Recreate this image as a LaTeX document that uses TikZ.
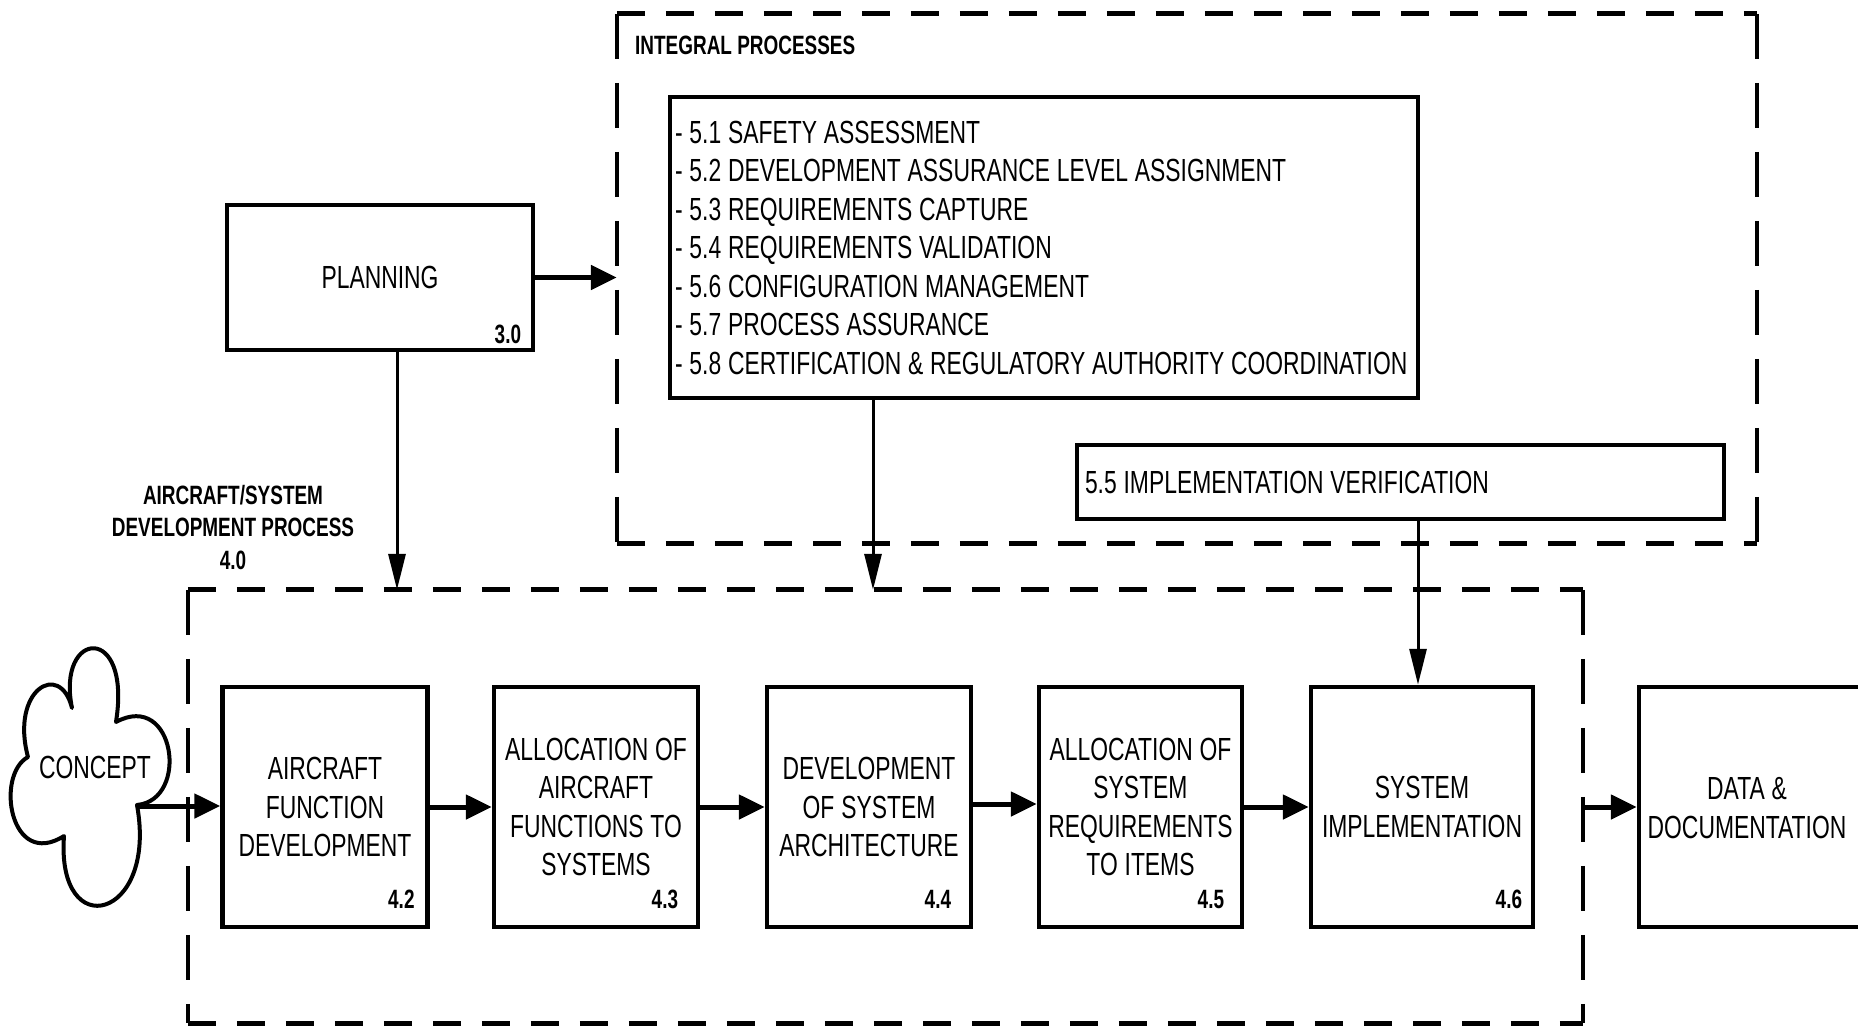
\documentclass[tikz,border=0pt]{standalone}
\usepackage{fontspec}
\setmainfont{Liberation Sans}[FakeStretch=0.715]
\usetikzlibrary{arrows.meta}
\newcommand\txtreg{\fontsize{32pt}{38.5pt}\selectfont\spaceskip=6.8pt\relax\hyphenpenalty=10000\relax}
\newcommand\txtbold{\bfseries\fontsize{26.5pt}{32.5pt}\selectfont\spaceskip=5.3pt\relax}
\begin{document}
\begin{tikzpicture}[x=1pt,y=-1pt,
  box/.style={draw,line width=4.5pt,inner sep=0pt,align=flush center,font=\txtreg,minimum height=240pt},
  listbox/.style={draw,line width=4.5pt,inner ysep=0pt,align=flush left,font=\txtreg},
  num/.style={font=\txtbold,inner sep=0pt,anchor=east},
  lbl/.style={font=\txtbold,inner sep=0pt},
  area/.style={draw=none,inner sep=0pt},
  hdash/.style={line width=5pt,dash pattern=on 28pt off 21pt},
  vdash/.style={line width=3.5pt,dash pattern=on 45pt off 24pt},
  harrow/.style={line width=5pt,-{Triangle[length=26pt,width=24pt]}},
  varrow/.style={line width=3pt,-{Triangle[length=36pt,width=17pt]}},
  cloudline/.style={line width=4pt,line join=round}
]
\clip (0,0) rectangle (1858,1027);
\fill[white] (0,0) rectangle (1858,1027);

% dashed areas
\node[area,minimum width=1140pt,minimum height=529pt] (intbox) at (1187,278.5) {};
\node[area,minimum width=1395pt,minimum height=433pt] (devbox) at (885.5,806.5) {};
\draw[hdash] (intbox.north west) -- (intbox.north east);
\draw[hdash] (intbox.south west) -- (intbox.south east);
\draw[vdash] (intbox.north west) -- (intbox.south west);
\draw[vdash] (intbox.north east) -- (intbox.south east);
\draw[hdash] (devbox.north west) -- (devbox.north east);
\draw[hdash] (devbox.south west) -- (devbox.south east);
\draw[vdash] (devbox.north west) -- (devbox.south west);
\draw[vdash] (devbox.north east) -- (devbox.south east);

% labels
\node[lbl,anchor=west] (intlbl) at (635,45) {INTEGRAL PROCESSES};
\node[lbl,align=flush center] (devlbl) at (233,527.5) {AIRCRAFT/SYSTEM\\DEVELOPMENT PROCESS\\4.0};

% planning
\node[box,minimum width=306pt,minimum height=145pt] (plan) at (380,277.5) {PLANNING};
\node[num] (n30) at ([xshift=-14pt,yshift=18pt]plan.south east) {3.0};

% integral list
\node[listbox,inner xsep=5pt,text width=738pt,minimum height=301pt] (list) at (1044,247.5) {%
- 5.1 SAFETY ASSESSMENT\\
- 5.2 DEVELOPMENT ASSURANCE LEVEL ASSIGNMENT\\
- 5.3 REQUIREMENTS CAPTURE\\
- 5.4 REQUIREMENTS VALIDATION\\
- 5.6 CONFIGURATION MANAGEMENT\\
- 5.7 PROCESS ASSURANCE\\
- 5.8 CERTIFICATION \& REGULATORY AUTHORITY COORDINATION};

\node[listbox,inner xsep=8pt,text width=631pt,minimum height=74pt] (v55) at (1400.5,482) {5.5 IMPLEMENTATION VERIFICATION};

% concept cloud
\draw[cloudline] (72,708) .. controls (56,630) and (132,622) .. (116,722)
  .. controls (175,690) and (190,800) .. (137,805)
  .. controls (158,920) and (56,945) .. (64,836)
  .. controls (10,870) and (-5,775) .. (28,757)
  .. controls (10,690) and (60,660) .. (72,708) -- cycle;
\coordinate (cC) at (137,806);
\node[font=\txtreg,inner sep=0pt] (concept) at (95,767) {CONCEPT};

% process boxes
\node[box,minimum width=205pt] (f42) at (325,807) {AIRCRAFT\\FUNCTION\\DEVELOPMENT};
\node[box,minimum width=204pt] (f43) at (596,807) {ALLOCATION OF\\AIRCRAFT\\FUNCTIONS TO\\SYSTEMS};
\node[box,minimum width=204pt] (f44) at (869,807) {DEVELOPMENT\\OF SYSTEM\\ARCHITECTURE};
\node[box,minimum width=203pt] (f45) at (1140.5,807) {ALLOCATION OF\\SYSTEM\\REQUIREMENTS\\TO ITEMS};
\node[box,minimum width=222pt] (f46) at (1422,807) {SYSTEM\\IMPLEMENTATION};
\node[box,minimum width=231pt] (data) at (1754.5,807) {};
\node[font=\txtreg,align=flush center,inner sep=0pt] (datatxt) at (1747,808) {DATA \&\\DOCUMENTATION};

\node[num] (n42) at ([xshift=-15pt,yshift=30pt]f42.south east) {4.2};
\node[num] (n43) at ([xshift=-22pt,yshift=30pt]f43.south east) {4.3};
\node[num] (n44) at ([xshift=-22pt,yshift=30pt]f44.south east) {4.4};
\node[num] (n45) at ([xshift=-20pt,yshift=30pt]f45.south east) {4.5};
\node[num] (n46) at ([xshift=-13pt,yshift=30pt]f46.south east) {4.6};

% connectors
\draw[harrow] (plan.east) -- (plan.east -| intbox.west);
\draw[varrow] ([xshift=17pt]plan.south) -- ([xshift=17pt]plan.south |- devbox.north);
\draw[varrow] ([xshift=-171pt]list.south) -- ([xshift=-171pt]list.south |- devbox.north);
\draw[varrow] ([xshift=17.5pt]v55.south) -- ([xshift=17.5pt]v55.south |- f46.north);
\draw[harrow] (cC) -- (cC -| f42.west);
\draw[harrow] (f42.east) -- (f43.west);
\draw[harrow] (f43.east) -- (f44.west);
\draw[harrow] ([yshift=3pt]f44.east) -- ([yshift=3pt]f45.west);
\draw[harrow] (f45.east) -- (f46.west);
\draw[harrow] (devbox.east |- data.west) -- (data.west);
\end{tikzpicture}
\end{document}
